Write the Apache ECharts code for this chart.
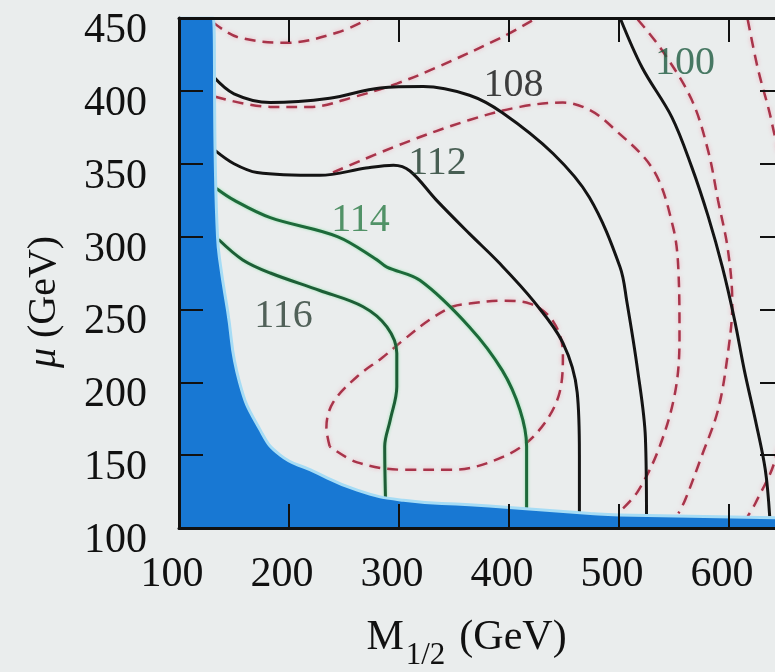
<!DOCTYPE html>
<html>
<head>
<meta charset="utf-8">
<script src="https://cdn.jsdelivr.net/npm/echarts@6/dist/echarts.min.js"></script>
<style>
  html, body { margin: 0; padding: 0; background: #eaeded; }
  #chart { width: 775px; height: 672px; }
</style>
</head>
<body>
<div id="chart"></div>
<script>
// excluded (blue) region boundary
const blueX = [100, 131, 133, 135, 137, 144, 155, 174, 192, 219, 262, 304, 364, 400, 474, 500, 650];
const blueY = [450, 450, 350, 300, 284, 250, 200, 167, 150, 140, 126, 119, 116, 114, 110, 109, 107];

// mh contours (solid)
const c100X = [501, 521, 548, 566, 581, 594, 605, 614, 624, 633, 637];
const c100Y = [450, 416, 382, 348, 314, 279, 243, 208, 174, 140, 108];
const c108X = [131, 150, 183, 237, 283, 322, 364, 394, 440, 473, 501, 507, 517, 524, 525];
const c108Y = [410, 398, 392, 395, 402, 403, 397, 385, 357, 327, 279, 256, 208, 162, 107];
const c112X = [133, 150, 171, 228, 270, 295, 310, 334, 364, 391, 422, 449, 462, 464, 464];
const c112Y = [359, 350, 344, 342, 347, 349, 345, 325, 302, 282, 256, 227, 193, 150, 110];
const c114X = [134, 150, 183, 244, 280, 289, 319, 364, 394, 410, 416, 416];
const c114Y = [333, 325, 313, 300, 284, 279, 270, 238, 208, 181, 156, 112];
const c116X = [136, 158, 183, 228, 267, 289, 298, 298, 292, 287, 288];
const c116Y = [298, 284, 275, 263, 252, 238, 220, 197, 174, 156, 112];

// dashed contours
const d1X = [131, 153, 198, 244, 274];
const d1Y = [447, 437, 433, 440, 450];
const d2X = [133, 183, 219, 260, 298, 334, 394, 425];
const d2Y = [396, 389, 389, 396, 405, 416, 437, 450];
const d3X = [240, 304, 364, 410, 449, 473, 494, 531, 549, 554, 555, 551, 536, 517, 503];
const d3Y = [344, 364, 380, 389, 392, 387, 375, 346, 307, 277, 231, 193, 154, 125, 113];
const d4X = [237, 234, 240, 262, 285, 304, 328, 349, 364, 394, 419, 440, 449, 446, 425, 395, 349, 304, 262, 237];
const d4Y = [156, 169, 186, 204, 217, 229, 243, 252, 254, 256, 254, 242, 220, 193, 165, 149, 140, 140, 145, 156];
const d6X = [517, 539, 566, 581, 590, 599, 603, 599, 590, 575, 560, 554];
const d6Y = [449, 428, 394, 359, 325, 291, 254, 220, 181, 149, 119, 110];
const d7X = [617, 626, 639, 650, 650, 642, 624, 617];
const d7Y = [449, 416, 378, 330, 190, 147, 117, 108];

// contour labels
const labelText = ['100', '108', '112', '114', '116'];
const labelX = [560, 404, 335, 265, 195];
const labelY = [419, 404, 350, 311, 245];

const xTicks = [100, 200, 300, 400, 500, 600];
const yTicks = [100, 150, 200, 250, 300, 350, 400, 450];

const font = 'Liberation Serif';
const labelColors = ['#1e5a40', '#111111', '#1e3a2c', '#2a7a45', '#2a3d33'];

const pts = (xs, ys) => xs.map((x, i) => [x, ys[i]]);

const solid = (xs, ys, color, halo) => ({
  type: 'line',
  data: pts(xs, ys),
  smooth: 0.35,
  showSymbol: false,
  silent: true,
  z: 2,
  lineStyle: {
    color: color,
    width: 3,
    shadowColor: halo,
    shadowBlur: halo ? 3 : 0,
  },
});

const dashed = (xs, ys) => ({
  type: 'line',
  data: pts(xs, ys),
  smooth: 0.35,
  showSymbol: false,
  silent: true,
  z: 1,
  lineStyle: {
    color: '#a8344a',
    width: 2.5,
    type: [11, 7],
    shadowColor: 'rgba(245,140,160,0.6)',
    shadowBlur: 4,
  },
});

const frameAxis = {
  type: 'value',
  z: 5,
  axisLine: { show: true, lineStyle: { color: '#111', width: 3 } },
  axisTick: { show: true, inside: true, length: 24, lineStyle: { color: '#111', width: 2 } },
  splitLine: { show: false },
};

const chart = echarts.init(document.getElementById('chart'));

chart.setOption({
  backgroundColor: '#eaeded',
  animation: false,
  grid: { left: 179, top: 18, right: -9, bottom: 144, outerBoundsMode: 'none' },
  xAxis: [
    {
      ...frameAxis,
      position: 'bottom',
      min: 100,
      max: 650,
      interval: 100,
      axisLabel: {
        show: true,
        showMaxLabel: false,
        margin: 26,
        color: '#111',
        fontFamily: font,
        fontSize: 42,
        formatter: (v) => (xTicks.includes(v) ? `{t|${v}}{g|}` : ''),
        rich: {
          t: { fontFamily: font, fontSize: 42, color: '#111' },
          g: { width: 14 },
        },
      },
      name: '{m|M}{s|1/2}{m|(GeV)}',
      nameLocation: 'middle',
      nameGap: 76,
      nameTextStyle: {
        padding: [0, 30, 0, 0],
        rich: {
          m: { fontFamily: font, fontSize: 42, color: '#111' },
          s: { fontFamily: font, fontSize: 31, color: '#111', padding: [36, 14, 0, 2] },
        },
      },
    },
    {
      ...frameAxis,
      position: 'top',
      min: 100,
      max: 650,
      interval: 100,
      axisLabel: { show: false },
    },
  ],
  yAxis: [
    {
      ...frameAxis,
      position: 'left',
      min: 100,
      max: 450,
      interval: 50,
      axisLabel: {
        show: true,
        margin: 32,
        verticalAlign: 'top',
        lineHeight: 26,
        color: '#111',
        fontFamily: font,
        fontSize: 42,
        formatter: (v) => (yTicks.includes(v) ? String(v) : ''),
      },
      name: '{i|μ} (GeV)',
      nameLocation: 'middle',
      nameRotate: 90,
      nameGap: 115,
      nameTextStyle: {
        fontFamily: font,
        fontSize: 40,
        color: '#111',
        padding: [0, 58, 0, 0],
        rich: {
          i: { fontFamily: font, fontSize: 40, fontStyle: 'italic', color: '#111' },
        },
      },
    },
    {
      ...frameAxis,
      position: 'right',
      min: 100,
      max: 450,
      interval: 50,
      axisLabel: { show: false },
    },
  ],
  series: [
    {
      type: 'line',
      data: pts(blueX, blueY),
      smooth: 0.5,
      showSymbol: false,
      silent: true,
      z: 3,
      lineStyle: { color: '#a6dcf5', width: 3 },
      areaStyle: { color: '#1878d3', opacity: 1 },
    },
    dashed(d1X, d1Y),
    dashed(d2X, d2Y),
    dashed(d3X, d3Y),
    dashed(d4X, d4Y),
    dashed(d6X, d6Y),
    dashed(d7X, d7Y),
    solid(c116X, c116Y, '#1d5e36', 'rgba(90,220,130,0.6)'),
    solid(c114X, c114Y, '#1d6a3a', 'rgba(90,220,130,0.6)'),
    solid(c112X, c112Y, '#141414', null),
    solid(c108X, c108Y, '#141414', null),
    solid(c100X, c100Y, '#141414', null),
    {
      type: 'scatter',
      symbolSize: 0,
      silent: true,
      z: 4,
      data: labelX.map((x, i) => ({
        value: [x, labelY[i]],
        label: { color: labelColors[i] },
      })),
      label: {
        show: true,
        position: 'inside',
        fontFamily: font,
        fontSize: 40,
        formatter: (p) => labelText[p.dataIndex],
      },
    },
  ],
});
</script>
</body>
</html>
